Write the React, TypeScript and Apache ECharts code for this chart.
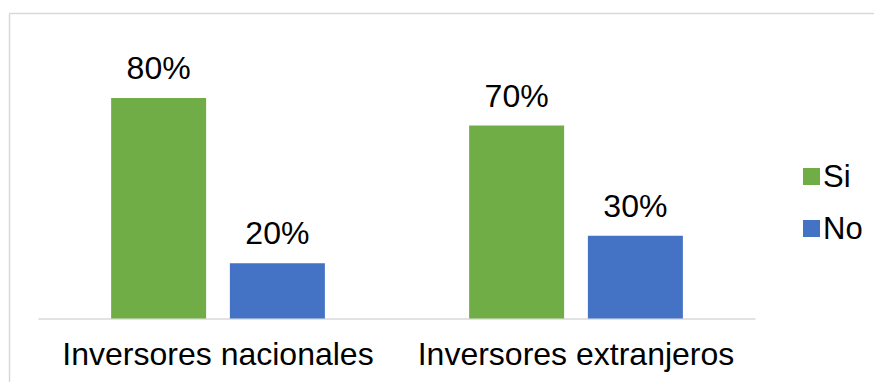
import React, { useEffect, useRef } from "react";
import * as echarts from "echarts";

// Survey results: share of investors answering "Si" / "No"
const categories: string[] = ["Inversores nacionales", "Inversores extranjeros"];
const seriesNames: string[] = ["Si", "No"];
const siValues: number[] = [80, 70];
const noValues: number[] = [20, 30];

const GREEN = "#70ad47";
const BLUE = "#4472c4";
const FONT = "'Liberation Sans', Arial, sans-serif";

export default function App() {
  const ref = useRef<HTMLDivElement>(null);

  useEffect(() => {
    if (!ref.current) return;
    const chart = echarts.init(ref.current, null, { renderer: "svg" });

    const label = {
      show: true,
      position: "top" as const,
      distance: 14,
      fontFamily: FONT,
      fontSize: 32,
      color: "#000",
      formatter: (p: any) => `${p.value}%`,
    };

    chart.setOption({
      animation: false,
      backgroundColor: "#fff",
      textStyle: { fontFamily: FONT },
      grid: { left: 39, right: 119, top: 42.8, bottom: 63.5, containLabel: false },
      legend: {
        orient: "vertical",
        left: 798,
        top: 156,
        itemWidth: 17,
        itemHeight: 17,
        itemGap: 21,
        icon: "rect",
        textStyle: { fontFamily: FONT, fontSize: 31, color: "#000", padding: [0, 0, 0, -2] },
        data: seriesNames,
      },
      xAxis: {
        type: "category",
        data: categories,
        axisLine: { show: true, lineStyle: { color: "#d9d9d9", width: 1.5 } },
        axisTick: { show: false },
        axisLabel: { interval: 0, fontFamily: FONT, fontSize: 32, color: "#000", margin: 19 },
      },
      yAxis: {
        type: "value",
        min: 0,
        max: 100,
        show: false,
        splitLine: { show: false },
      },
      graphic: [
        {
          type: "line",
          shape: { x1: 9.5, y1: 13.5, x2: 9.5, y2: 382 },
          style: { stroke: "#d9d9d9", lineWidth: 1.5 },
          silent: true,
        },
        {
          type: "line",
          shape: { x1: 9.5, y1: 13.5, x2: 874, y2: 13.5 },
          style: { stroke: "#d9d9d9", lineWidth: 1.5 },
          silent: true,
        },
      ],
      series: [
        {
          name: seriesNames[0],
          type: "bar",
          data: siValues,
          barWidth: 95,
          barGap: "25%",
          itemStyle: { color: GREEN },
          label,
        },
        {
          name: seriesNames[1],
          type: "bar",
          data: noValues,
          barWidth: 95,
          barGap: "25%",
          itemStyle: { color: BLUE },
          label,
        },
      ],
    });

    return () => chart.dispose();
  }, []);

  return (
    <div
      ref={ref}
      style={{ position: "fixed", left: 0, top: 0, width: 874, height: 382 }}
    />
  );
}
